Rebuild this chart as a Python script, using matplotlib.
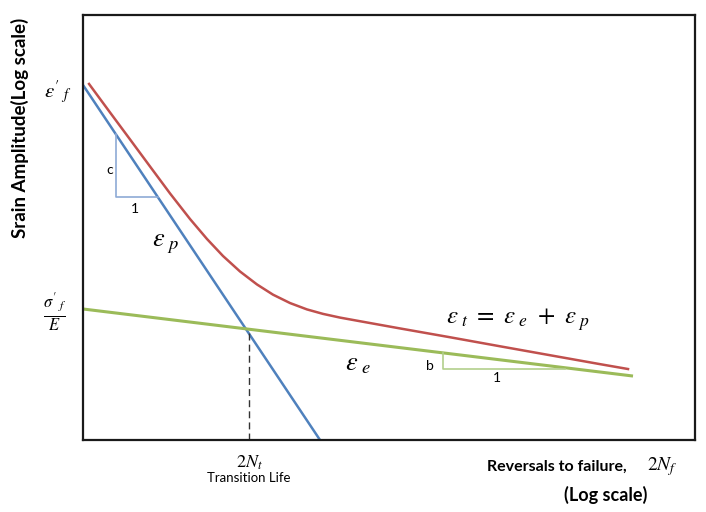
import numpy as np
import matplotlib.pyplot as plt

plt.rcParams['mathtext.fontset'] = 'stix'

# all values in log10 units: x = log10(2N), y = log10(strain amplitude)
plastic_x = [0.0, 2.711]
plastic_y = [-0.659, -4.0]

elastic_x = [0.0, 6.291]
elastic_y = [-2.767, -3.398]

total_x = [0.069, 0.309, 0.538, 0.766, 0.995, 1.224, 1.418, 1.601, 1.796, 1.990,
           2.173, 2.368, 2.562, 2.745, 2.940, 3.134, 3.626, 4.198, 4.770, 5.341,
           5.913, 6.234]
total_y = [-0.649, -0.917, -1.171, -1.425, -1.679, -1.920, -2.108, -2.268, -2.414, -2.536,
           -2.632, -2.711, -2.771, -2.813, -2.848, -2.877, -2.950, -3.033, -3.118, -3.202,
           -3.286, -3.332]

transition_x = 1.899

# slope triangles
c_tri_x = [0.377, 0.377, 0.858]
c_tri_y = [-1.120, -1.713, -1.713]
b_tri_x = [4.118, 4.118, 5.513]
b_tri_y = [-3.180, -3.332, -3.332]

x_min, x_max = 0.0, 7.0
y_min, y_max = -4.0, 0.0

fig = plt.figure(figsize=(7.06, 5.12), dpi=100)
ax = fig.add_axes([83 / 706, 1 - 440 / 512, 612 / 706, 425 / 512])
ax.set_xlim(x_min, x_max)
ax.set_ylim(y_min, y_max)
ax.set_xticks([])
ax.set_yticks([])
for s in ax.spines.values():
    s.set_linewidth(1.6)
    s.set_color('#1a1a1a')

ax.plot(plastic_x, plastic_y, color='#4f81bd', lw=1.8, solid_capstyle='butt')
ax.plot(elastic_x, elastic_y, color='#9bbb59', lw=2.2, solid_capstyle='butt')
ax.plot(total_x, total_y, color='#c0504d', lw=1.8, solid_joinstyle='round')

# transition life dashed line
trans_y = np.interp(transition_x, elastic_x, elastic_y)
ax.plot([transition_x, transition_x], [y_min, trans_y], color='#333333',
        lw=1.0, ls=(0, (5, 3)))

ax.plot(c_tri_x, c_tri_y, color='#8eaad6', lw=1.2)
ax.plot(b_tri_x, b_tri_y, color='#b3cf8c', lw=1.2)
ax.text(0.309, -1.459, 'c', fontsize=10, ha='center', va='center', family='Lato')
ax.text(0.595, -1.826, '1', fontsize=10, ha='center', va='center', family='Lato')
ax.text(3.969, -3.304, 'b', fontsize=10, ha='center', va='center', family='Lato')
ax.text(4.735, -3.416, '1', fontsize=10, ha='center', va='center', family='Lato')

# curve labels
ax.text(0.938, -2.146, r'$\varepsilon_{\ p}$', fontsize=19, ha='center', va='center')
ax.text(3.145, -3.275, r'$\varepsilon_{\ e}$', fontsize=19, ha='center', va='center')
ax.text(4.975, -2.871, r'$\varepsilon_{\ t}\ =\ \varepsilon_{\ e}\ +\ \varepsilon_{\ p}$',
        fontsize=18, ha='center', va='center')

# axis value labels
ax.text(-0.286, -0.725, r"$\varepsilon'_{\ f}$", fontsize=15, ha='center', va='center',
        clip_on=False)
ax.text(-0.320, -2.795, r"$\frac{\sigma'_{\ f}}{E}$", fontsize=17, ha='center', va='center',
        clip_on=False)
ax.text(transition_x, -4.21, r'$2N_t$', fontsize=13, ha='center', va='center', clip_on=False)
ax.text(transition_x, -4.36, 'Transition Life', fontsize=9.5, ha='center', va='center',
        family='Lato', clip_on=False)

# axis titles
fig.text(557 / 706, 1 - 467 / 512, 'Reversals to failure,', fontsize=11.5, fontweight='bold',
         family='Lato', ha='center', va='center')
fig.text(662 / 706, 1 - 467 / 512, r'$2N_f$', fontsize=14, ha='center', va='center')
fig.text(606 / 706, 1 - 495 / 512, '(Log scale)', fontsize=13, fontweight='bold',
         family='Lato', ha='center', va='center')
fig.text(20 / 706, 1 - 128 / 512, 'Srain Amplitude(Log scale)', fontsize=13.5,
         fontweight='bold', family='Lato', rotation=90, ha='center', va='center')

fig.savefig('out.png', dpi=100)
